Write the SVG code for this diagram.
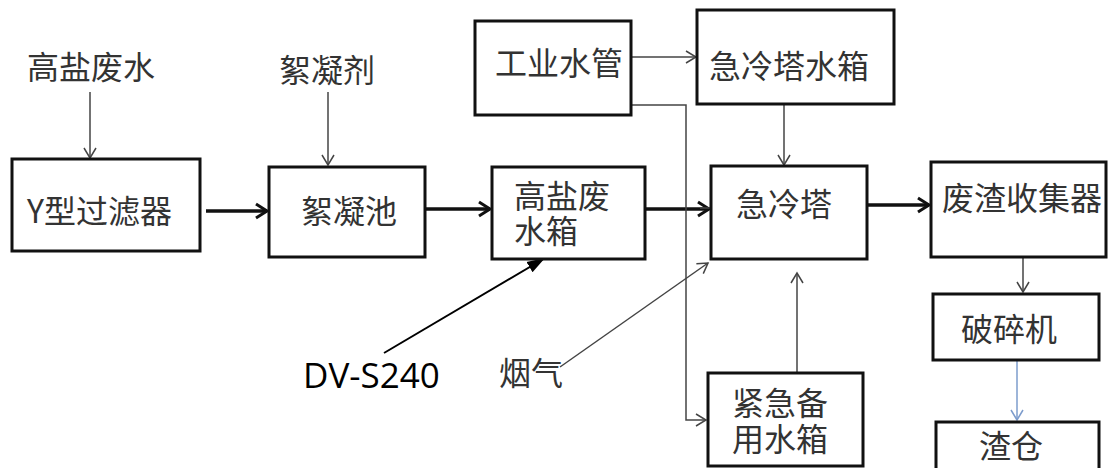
<svg xmlns="http://www.w3.org/2000/svg" width="1110" height="468" viewBox="0 0 1110 468">
<style>
.box{fill:#fff;stroke:#111;stroke-width:3}
.t{font-family:"Noto Sans CJK SC","Noto Sans",sans-serif;font-size:32px;fill:#333}
.thin{fill:none;stroke:#444;stroke-width:1.5}
.thick{fill:none;stroke:#111;stroke-width:3.5}
.blue{fill:none;stroke:#7d9ccc;stroke-width:1.5}
</style>
<defs>
<marker id="a" markerUnits="userSpaceOnUse" markerWidth="16" markerHeight="16" refX="12" refY="8" orient="auto"><path d="M2,2 L12,8 L2,14" fill="none" stroke="#444" stroke-width="1.5"/></marker>
<marker id="ab" markerUnits="userSpaceOnUse" markerWidth="16" markerHeight="16" refX="12" refY="8" orient="auto"><path d="M2,2 L12,8 L2,14" fill="none" stroke="#7d9ccc" stroke-width="1.5"/></marker>
<marker id="ak" markerUnits="userSpaceOnUse" markerWidth="18" markerHeight="18" refX="14" refY="9" orient="auto"><path d="M3,2 L14,9 L3,16" fill="none" stroke="#111" stroke-width="3"/></marker>
<marker id="af" markerUnits="userSpaceOnUse" markerWidth="20" markerHeight="16" refX="18" refY="8" orient="auto"><path d="M0,2 L18,8 L0,14 Z" fill="#000"/></marker>
</defs>
<rect width="1110" height="468" fill="#fff"/>
<g id="connectors">
<line class="thin" x1="90" y1="92" x2="90" y2="158" marker-end="url(#a)"/>
<line class="thin" x1="328" y1="92" x2="328" y2="165" marker-end="url(#a)"/>
<line class="thick" x1="206" y1="211" x2="267" y2="211" marker-end="url(#ak)"/>
<line class="thick" x1="426" y1="209" x2="490" y2="209" marker-end="url(#ak)"/>
<line class="thick" x1="645" y1="209" x2="709" y2="209" marker-end="url(#ak)"/>
<line class="thin" x1="700" y1="208" x2="740" y2="208"/>
<line class="thin" x1="631" y1="57" x2="696" y2="57" marker-end="url(#a)"/>
<polyline class="thin" points="631,105 686,105 686,420 706,420" marker-end="url(#a)"/>
<line class="thin" x1="784" y1="104" x2="784" y2="165" marker-end="url(#a)"/>
<line class="thin" x1="797" y1="373" x2="797" y2="273" marker-end="url(#a)"/>
<line class="thin" x1="560" y1="367" x2="708" y2="263" stroke="#555" marker-end="url(#a)"/>
<line x1="384" y1="353" x2="545" y2="258" stroke="#000" stroke-width="2" marker-end="url(#af)"/>
<line class="thick" x1="867" y1="205" x2="929" y2="205" marker-end="url(#ak)"/>
<line class="thin" x1="1023" y1="257" x2="1023" y2="292" marker-end="url(#a)"/>
<line class="blue" x1="1017" y1="360" x2="1017" y2="420" marker-end="url(#ab)"/>
</g>
<g id="src-water"><text class="t" x="27" y="79">高盐废水</text></g>
<g id="flocculant"><text class="t" x="279" y="82">絮凝剂</text></g>
<g id="y-filter"><rect class="box" x="12" y="159" width="188" height="92"/><text class="t" x="27" y="223">Y型过滤器</text></g>
<g id="floc-tank"><rect class="box" x="269" y="167" width="156" height="90"/><text class="t" x="301" y="223">絮凝池</text></g>
<g id="brine-tank"><rect class="box" x="492" y="167" width="153" height="92"/><text class="t" x="514" y="208">高盐废<tspan x="514" y="243">水箱</tspan></text></g>
<g id="ind-water"><rect class="box" x="475" y="21" width="156" height="94"/><text class="t" x="495" y="75">工业水管</text></g>
<g id="quench-water"><rect class="box" x="697" y="10" width="197" height="94"/><text class="t" x="709" y="78">急冷塔水箱</text></g>
<g id="quench"><rect class="box" x="711" y="166" width="156" height="93"/><text class="t" x="736" y="216">急冷塔</text></g>
<g id="emergency"><rect class="box" x="708" y="373" width="155" height="93"/><text class="t" x="732" y="415">紧急备<tspan x="732" y="451">用水箱</tspan></text></g>
<g id="slag-collector"><rect class="box" x="931" y="162" width="175" height="95"/><text class="t" x="942" y="210">废渣收集器</text></g>
<g id="crusher"><rect class="box" x="933" y="294" width="166" height="66"/><text class="t" x="961" y="341">破碎机</text></g>
<g id="slag-bin"><rect class="box" x="936" y="422" width="163" height="60"/><text class="t" x="979" y="458">渣仓</text></g>
<g id="flue-gas"><text class="t" x="499" y="385">烟气</text></g>
<g id="dv-label"><text x="303" y="388" font-family="'Open Sans','Noto Sans',sans-serif" font-size="35" fill="#000">DV-S240</text></g>
</svg>
